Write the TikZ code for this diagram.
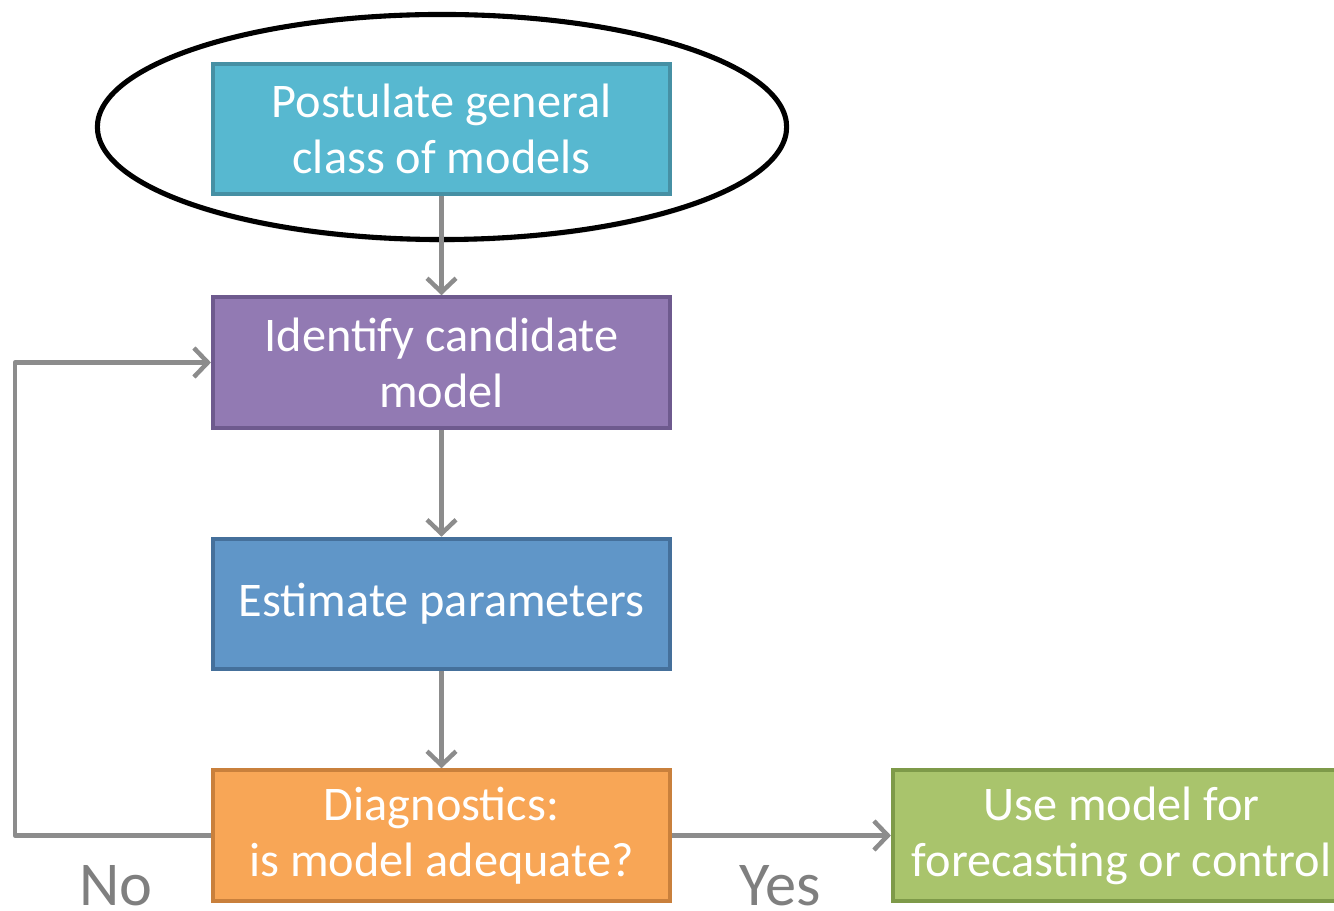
\documentclass[tikz,border=0pt]{standalone}
\usepackage{fontspec}
\setmainfont{Carlito}
\usetikzlibrary{arrows.meta,shapes.geometric,shadows}

\definecolor{cyanfill}{HTML}{57B8D0}
\definecolor{cyanline}{HTML}{4690A4}
\definecolor{purplefill}{HTML}{927AB3}
\definecolor{purpleline}{HTML}{6E5A8E}
\definecolor{bluefill}{HTML}{6096C8}
\definecolor{blueline}{HTML}{45709B}
\definecolor{orangefill}{HTML}{F8A656}
\definecolor{orangeline}{HTML}{C9803C}
\definecolor{greenfill}{HTML}{A9C46C}
\definecolor{greenline}{HTML}{7E9A49}
\definecolor{arrowgray}{HTML}{8C8C8C}
\definecolor{labelgray}{HTML}{7F7F7F}

% one unit of the grid used below is 0.02cm (about 0.567pt)
\tikzset{
  stepbox/.style={rectangle, minimum width=260.2pt, minimum height=74.3pt,
    line width=2.27pt, text=white, align=center, inner sep=0pt,
    font=\fontsize{27.5}{31.8}\selectfont},
  flow/.style={draw=arrowgray, line width=2.55pt, line join=round,
    -{Straight Barb[length=7.9pt, width=16.5pt]}},
  answer/.style={text=labelgray, font=\fontsize{35.5}{40}\selectfont, inner sep=0pt}
}

\begin{document}
\begin{tikzpicture}[x=0.02cm, y=-0.02cm]
  \useasboundingbox (0,0) rectangle (1334,911);
  \begin{scope}
  \clip (0,0) rectangle (1334,911);

  % ring drawn around the first step
  \node (ring) [ellipse, draw=black, fill=white, line width=2.9pt,
    minimum width=392.3pt, minimum height=128.1pt,
    drop shadow={opacity=0.25, shadow xshift=0pt, shadow yshift=-1.7pt}]
    at (442,127) {};

  % steps
  \node (postulate) [stepbox, fill=cyanfill, draw=cyanline] at (441.5,129)
    {Postulate general\\class of models};
  \node (identify) [stepbox, fill=purplefill, draw=purpleline] at (441.5,362.5)
    {Identify candidate\\model};
  \node (estimate) [stepbox, fill=bluefill, draw=blueline] at (441.5,604)
    {Estimate parameters};
  \node (diagnose) [stepbox, fill=orangefill, draw=orangeline] at (441.5,835.5)
    {Diagnostics:\\is model adequate?};
  \node (use) [stepbox, fill=greenfill, draw=greenline] at (1121.5,835.5)
    {Use model for\\forecasting or control};

  % connectors
  \draw[flow] (postulate.south) -- (identify.north);
  \draw[flow] (identify.south) -- (estimate.north);
  \draw[flow] (estimate.south) -- (diagnose.north);
  \draw[flow] (diagnose.east) -- (use.west);
  \coordinate (loop) at (15,600);
  \draw[flow] (diagnose.west) -| (loop) |- (identify.west);

  % answers
  \node (no) [answer, anchor=base] at (116,905) {No};
  \node (yes) [answer, anchor=base] at (780,905) {Yes};
  \end{scope}
\end{tikzpicture}
\end{document}
